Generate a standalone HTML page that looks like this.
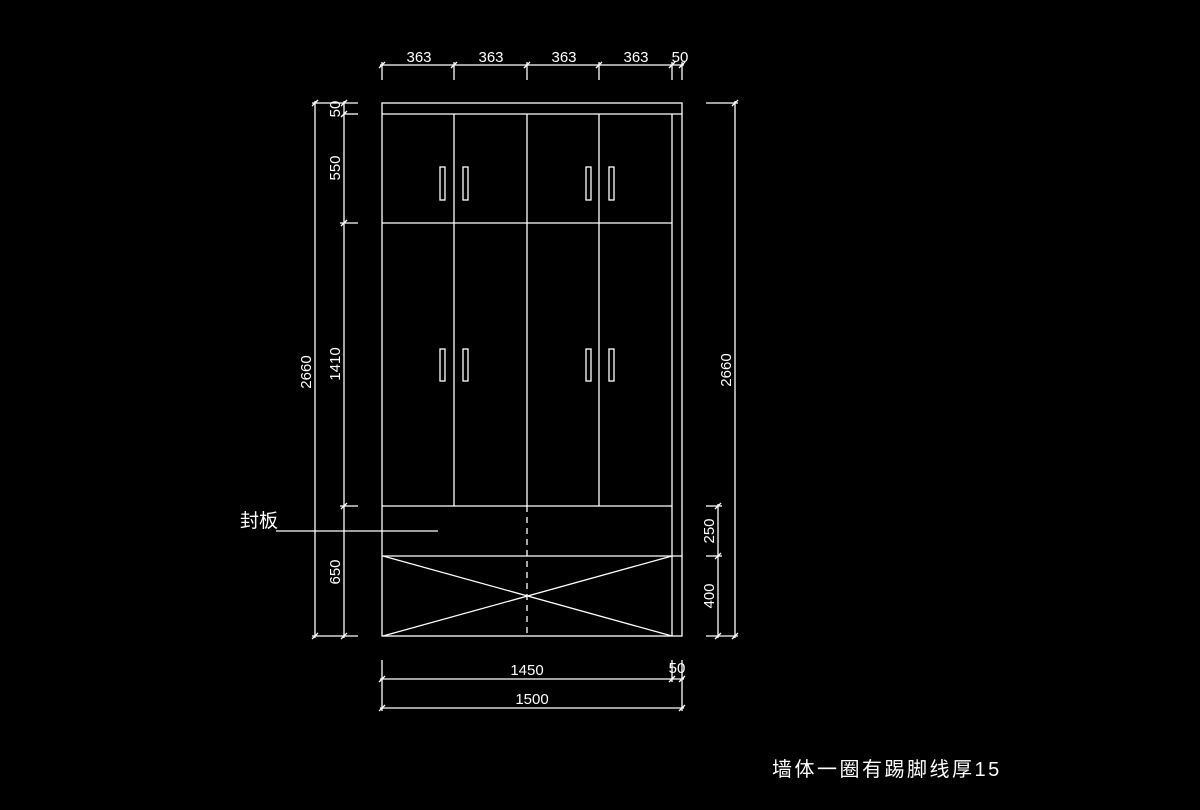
<!DOCTYPE html>
<html><head><meta charset="utf-8"><style>
html,body{margin:0;padding:0;background:#000;}
svg{display:block}
text{fill:#fff;font-family:"Liberation Sans","Noto Sans CJK SC",sans-serif;font-size:15px}
</style></head><body>
<svg width="1200" height="810" viewBox="0 0 1200 810" xmlns="http://www.w3.org/2000/svg">
<rect width="1200" height="810" fill="#000"/>
<g stroke="#fff" stroke-width="1.3" fill="none">
<rect x="382" y="103" width="300" height="533"/>
<line x1="382" y1="114" x2="682" y2="114"/>
<line x1="672" y1="114" x2="672" y2="636"/>
<line x1="382" y1="223" x2="672" y2="223"/>
<line x1="454" y1="114" x2="454" y2="506"/>
<line x1="527" y1="114" x2="527" y2="506"/>
<line x1="599" y1="114" x2="599" y2="506"/>
<line x1="382" y1="506" x2="672" y2="506"/>
<line x1="382" y1="556" x2="682" y2="556"/>
<line x1="527" y1="506" x2="527" y2="636" stroke-dasharray="6,5"/>
<line x1="383" y1="556" x2="672" y2="636"/>
<line x1="383" y1="636" x2="672" y2="556"/>
<rect x="440" y="167" width="5" height="33"/><rect x="463" y="167" width="5" height="33"/>
<rect x="586" y="167" width="5" height="33"/><rect x="609" y="167" width="5" height="33"/>
<rect x="440" y="349" width="5" height="32"/><rect x="463" y="349" width="5" height="32"/>
<rect x="586" y="349" width="5" height="32"/><rect x="609" y="349" width="5" height="32"/>
<line x1="380" y1="65" x2="684" y2="65"/>
<line x1="382" y1="62" x2="382" y2="80"/><line x1="454" y1="62" x2="454" y2="80"/>
<line x1="527" y1="62" x2="527" y2="80"/><line x1="599" y1="62" x2="599" y2="80"/>
<line x1="672" y1="62" x2="672" y2="80"/><line x1="682" y1="62" x2="682" y2="80"/>
<line x1="315" y1="101" x2="315" y2="638"/>
<line x1="344" y1="101" x2="344" y2="638"/>
<line x1="312" y1="103" x2="358" y2="103"/>
<line x1="344" y1="114" x2="358" y2="114"/>
<line x1="340" y1="223" x2="358" y2="223"/>
<line x1="340" y1="506" x2="358" y2="506"/>
<line x1="312" y1="636" x2="358" y2="636"/>
<line x1="735" y1="101" x2="735" y2="638"/>
<line x1="706" y1="103" x2="738" y2="103"/>
<line x1="718" y1="504" x2="718" y2="638"/>
<line x1="706" y1="506" x2="722" y2="506"/>
<line x1="706" y1="556" x2="722" y2="556"/>
<line x1="706" y1="636" x2="738" y2="636"/>
<line x1="382" y1="660" x2="382" y2="711"/>
<line x1="672" y1="660" x2="672" y2="682"/>
<line x1="682" y1="660" x2="682" y2="711"/>
<line x1="380" y1="679" x2="684" y2="679"/>
<line x1="380" y1="708" x2="684" y2="708"/>
<line x1="276" y1="531" x2="438" y2="531"/>
</g>
<g stroke="#fff" stroke-width="1.3">
<path d="M379 68 L385 62 M451 68 L457 62 M524 68 L530 62 M596 68 L602 62 M669 68 L675 62 M679 68 L685 62"/>
<path d="M312 106 L318 100 M312 639 L318 633 M341 106 L347 100 M341 117 L347 111 M341 226 L347 220 M341 509 L347 503 M341 639 L347 633"/>
<path d="M732 106 L738 100 M732 639 L738 633 M715 509 L721 503 M715 559 L721 553 M715 639 L721 633"/>
<path d="M379 682 L385 676 M669 682 L675 676 M679 682 L685 676 M379 711 L385 705 M679 711 L685 705"/>
</g>
<g>
<text x="419" y="62" text-anchor="middle">363</text>
<text x="491" y="62" text-anchor="middle">363</text>
<text x="564" y="62" text-anchor="middle">363</text>
<text x="636" y="62" text-anchor="middle">363</text>
<text x="680" y="62" text-anchor="middle">50</text>
<text x="527" y="675" text-anchor="middle">1450</text>
<text x="677" y="673" text-anchor="middle">50</text>
<text x="532" y="704" text-anchor="middle">1500</text>
<text transform="translate(311,372) rotate(-90)" text-anchor="middle">2660</text>
<text transform="translate(340,364) rotate(-90)" text-anchor="middle">1410</text>
<text transform="translate(340,168) rotate(-90)" text-anchor="middle">550</text>
<text transform="translate(340,109) rotate(-90)" text-anchor="middle">50</text>
<text transform="translate(340,572) rotate(-90)" text-anchor="middle">650</text>
<text transform="translate(731,370) rotate(-90)" text-anchor="middle">2660</text>
<text transform="translate(714,531) rotate(-90)" text-anchor="middle">250</text>
<text transform="translate(714,596) rotate(-90)" text-anchor="middle">400</text>
<text x="240" y="527" style="font-size:19px">封板</text>
<text x="772" y="776" style="font-size:20px;letter-spacing:2.5px">墙体一圈有踢脚线厚15</text>
</g>
</svg>
</body></html>
